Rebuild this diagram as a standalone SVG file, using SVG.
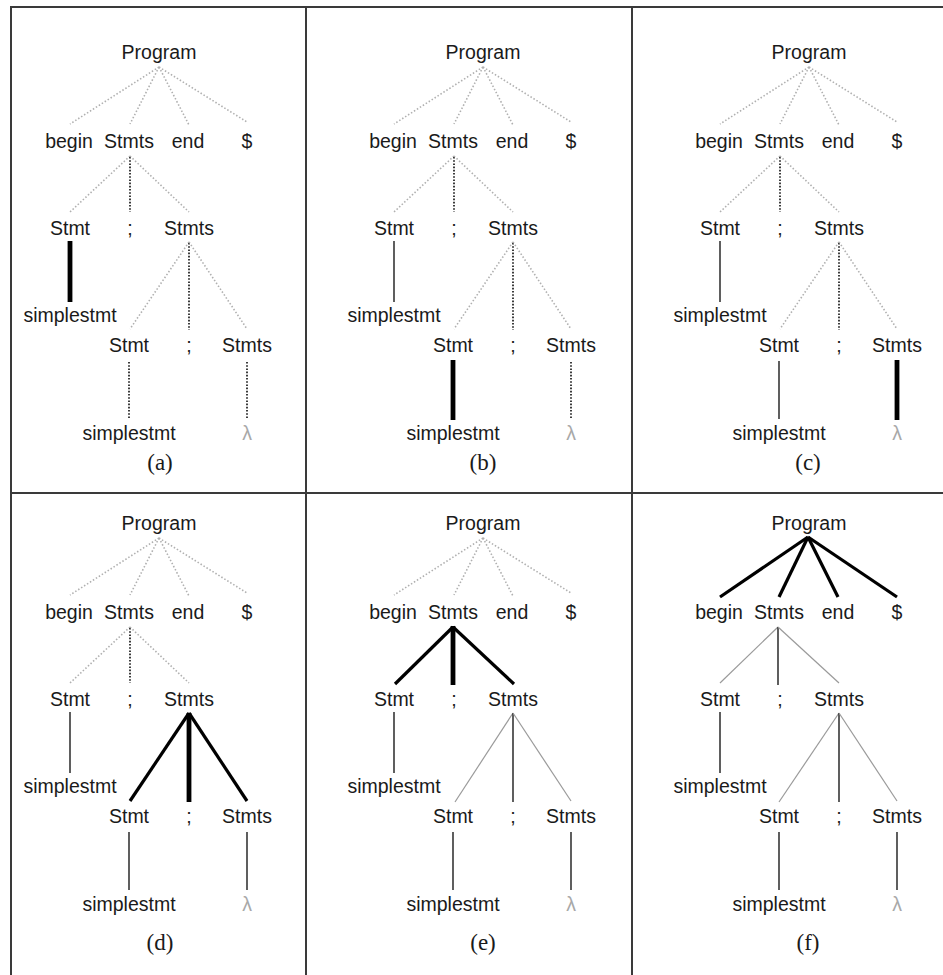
<svg xmlns="http://www.w3.org/2000/svg" width="943" height="975" viewBox="0 0 943 975">
<style>
.t{font-family:"Liberation Sans",Arial,sans-serif;font-size:19.5px;fill:#1a1a1a;text-anchor:middle}
.lam{fill:#a8a8a8}
.cap{font-family:"Liberation Serif","Times New Roman",serif;font-size:23px;fill:#1a1a1a;text-anchor:middle}
.dg{stroke:#b0b0b0;stroke-width:1.6;stroke-dasharray:1.5 2;fill:none}
.dk{stroke:#1a1a1a;stroke-width:1.7;stroke-dasharray:1.6 1.6;fill:none}
.th{stroke:#1a1a1a;stroke-width:1.4;fill:none}
.tg{stroke:#9a9a9a;stroke-width:1.2;fill:none}
.bk{stroke:#000;stroke-width:3.2;fill:none}
.bv{stroke:#000;stroke-width:4.8;fill:none}
.fr{stroke:#3a3a3a;stroke-width:2;fill:none}
</style>
<g id="frame">
<line class="fr" x1="11" y1="7" x2="943" y2="7"/>
<line class="fr" x1="11" y1="6" x2="11" y2="975"/>
<line class="fr" x1="306" y1="6" x2="306" y2="975"/>
<line class="fr" x1="632" y1="6" x2="632" y2="975"/>
<line class="fr" x1="11" y1="493" x2="943" y2="493"/>
</g>

<!-- Panel a -->
<g id="panel-a">
<g id="a-connectors">
<line class="dg" x1="159" y1="67" x2="70" y2="124"/>
<line class="dg" x1="159" y1="67" x2="130" y2="124"/>
<line class="dg" x1="159" y1="67" x2="189" y2="125"/>
<line class="dg" x1="159" y1="67" x2="247" y2="122"/>
<line class="dg" x1="130" y1="156" x2="70" y2="212"/>
<line class="dk" x1="130" y1="157" x2="130" y2="212"/>
<line class="dg" x1="130" y1="156" x2="189" y2="212"/>
<line class="bv" x1="70" y1="241" x2="70" y2="302"/>
<line class="dg" x1="189" y1="242" x2="130" y2="329"/>
<line class="dk" x1="189" y1="243" x2="189" y2="330"/>
<line class="dg" x1="189" y1="242" x2="247" y2="329"/>
<line class="dk" x1="129" y1="362" x2="129" y2="418"/>
<line class="dk" x1="247" y1="362" x2="247" y2="418"/>
</g>
<g id="a-program"><text class="t" x="159" y="59">Program</text></g>
<g id="a-begin"><text class="t" x="69" y="148">begin</text></g>
<g id="a-stmts1"><text class="t" x="129" y="148">Stmts</text></g>
<g id="a-end"><text class="t" x="188" y="148">end</text></g>
<g id="a-dollar"><text class="t" x="247" y="148">$</text></g>
<g id="a-stmt1"><text class="t" x="70" y="235">Stmt</text></g>
<g id="a-semi1"><text class="t" x="130" y="235">;</text></g>
<g id="a-stmts2"><text class="t" x="189" y="235">Stmts</text></g>
<g id="a-simple1"><text class="t" x="70" y="322">simplestmt</text></g>
<g id="a-stmt2"><text class="t" x="129" y="352">Stmt</text></g>
<g id="a-semi2"><text class="t" x="189" y="352">;</text></g>
<g id="a-stmts3"><text class="t" x="247" y="352">Stmts</text></g>
<g id="a-simple2"><text class="t" x="129" y="440">simplestmt</text></g>
<g id="a-lambda"><text class="t lam" x="247" y="440">λ</text></g>
<text class="cap" x="160" y="470">(a)</text>
</g>

<!-- Panel b -->
<g id="panel-b" transform="translate(324,0)">
<g id="b-connectors">
<line class="dg" x1="159" y1="67" x2="70" y2="124"/>
<line class="dg" x1="159" y1="67" x2="130" y2="124"/>
<line class="dg" x1="159" y1="67" x2="189" y2="125"/>
<line class="dg" x1="159" y1="67" x2="247" y2="122"/>
<line class="dg" x1="130" y1="156" x2="70" y2="212"/>
<line class="dk" x1="130" y1="157" x2="130" y2="212"/>
<line class="dg" x1="130" y1="156" x2="189" y2="212"/>
<line class="th" x1="70" y1="241" x2="70" y2="302"/>
<line class="dg" x1="189" y1="242" x2="130" y2="329"/>
<line class="dk" x1="189" y1="243" x2="189" y2="330"/>
<line class="dg" x1="189" y1="242" x2="247" y2="329"/>
<line class="bv" x1="129" y1="360" x2="129" y2="420"/>
<line class="dk" x1="247" y1="362" x2="247" y2="418"/>
</g>
<g id="b-program"><text class="t" x="159" y="59">Program</text></g>
<g id="b-begin"><text class="t" x="69" y="148">begin</text></g>
<g id="b-stmts1"><text class="t" x="129" y="148">Stmts</text></g>
<g id="b-end"><text class="t" x="188" y="148">end</text></g>
<g id="b-dollar"><text class="t" x="247" y="148">$</text></g>
<g id="b-stmt1"><text class="t" x="70" y="235">Stmt</text></g>
<g id="b-semi1"><text class="t" x="130" y="235">;</text></g>
<g id="b-stmts2"><text class="t" x="189" y="235">Stmts</text></g>
<g id="b-simple1"><text class="t" x="70" y="322">simplestmt</text></g>
<g id="b-stmt2"><text class="t" x="129" y="352">Stmt</text></g>
<g id="b-semi2"><text class="t" x="189" y="352">;</text></g>
<g id="b-stmts3"><text class="t" x="247" y="352">Stmts</text></g>
<g id="b-simple2"><text class="t" x="129" y="440">simplestmt</text></g>
<g id="b-lambda"><text class="t lam" x="247" y="440">λ</text></g>
<text class="cap" x="159" y="470">(b)</text>
</g>

<!-- Panel c -->
<g id="panel-c" transform="translate(650,0)">
<g id="c-connectors">
<line class="dg" x1="159" y1="67" x2="70" y2="124"/>
<line class="dg" x1="159" y1="67" x2="130" y2="124"/>
<line class="dg" x1="159" y1="67" x2="189" y2="125"/>
<line class="dg" x1="159" y1="67" x2="247" y2="122"/>
<line class="dg" x1="130" y1="156" x2="70" y2="212"/>
<line class="dk" x1="130" y1="157" x2="130" y2="212"/>
<line class="dg" x1="130" y1="156" x2="189" y2="212"/>
<line class="th" x1="70" y1="241" x2="70" y2="302"/>
<line class="dg" x1="189" y1="242" x2="130" y2="329"/>
<line class="dk" x1="189" y1="243" x2="189" y2="330"/>
<line class="dg" x1="189" y1="242" x2="247" y2="329"/>
<line class="th" x1="129" y1="361" x2="129" y2="419"/>
<line class="bv" x1="247" y1="360" x2="247" y2="420"/>
</g>
<g id="c-program"><text class="t" x="159" y="59">Program</text></g>
<g id="c-begin"><text class="t" x="69" y="148">begin</text></g>
<g id="c-stmts1"><text class="t" x="129" y="148">Stmts</text></g>
<g id="c-end"><text class="t" x="188" y="148">end</text></g>
<g id="c-dollar"><text class="t" x="247" y="148">$</text></g>
<g id="c-stmt1"><text class="t" x="70" y="235">Stmt</text></g>
<g id="c-semi1"><text class="t" x="130" y="235">;</text></g>
<g id="c-stmts2"><text class="t" x="189" y="235">Stmts</text></g>
<g id="c-simple1"><text class="t" x="70" y="322">simplestmt</text></g>
<g id="c-stmt2"><text class="t" x="129" y="352">Stmt</text></g>
<g id="c-semi2"><text class="t" x="189" y="352">;</text></g>
<g id="c-stmts3"><text class="t" x="247" y="352">Stmts</text></g>
<g id="c-simple2"><text class="t" x="129" y="440">simplestmt</text></g>
<g id="c-lambda"><text class="t lam" x="247" y="440">λ</text></g>
<text class="cap" x="158" y="470">(c)</text>
</g>

<!-- Panel d -->
<g id="panel-d" transform="translate(0,471)">
<g id="d-connectors">
<line class="dg" x1="159" y1="67" x2="70" y2="124"/>
<line class="dg" x1="159" y1="67" x2="130" y2="124"/>
<line class="dg" x1="159" y1="67" x2="189" y2="125"/>
<line class="dg" x1="159" y1="67" x2="247" y2="122"/>
<line class="dg" x1="130" y1="156" x2="70" y2="212"/>
<line class="dk" x1="130" y1="157" x2="130" y2="212"/>
<line class="dg" x1="130" y1="156" x2="189" y2="212"/>
<line class="th" x1="70" y1="241" x2="70" y2="302"/>
<line class="bk" x1="189" y1="242" x2="130" y2="330"/>
<line class="bv" x1="189" y1="242" x2="189" y2="331"/>
<line class="bk" x1="189" y1="242" x2="247" y2="330"/>
<line class="th" x1="129" y1="361" x2="129" y2="419"/>
<line class="th" x1="247" y1="361" x2="247" y2="419"/>
</g>
<g id="d-program"><text class="t" x="159" y="59">Program</text></g>
<g id="d-begin"><text class="t" x="69" y="148">begin</text></g>
<g id="d-stmts1"><text class="t" x="129" y="148">Stmts</text></g>
<g id="d-end"><text class="t" x="188" y="148">end</text></g>
<g id="d-dollar"><text class="t" x="247" y="148">$</text></g>
<g id="d-stmt1"><text class="t" x="70" y="235">Stmt</text></g>
<g id="d-semi1"><text class="t" x="130" y="235">;</text></g>
<g id="d-stmts2"><text class="t" x="189" y="235">Stmts</text></g>
<g id="d-simple1"><text class="t" x="70" y="322">simplestmt</text></g>
<g id="d-stmt2"><text class="t" x="129" y="352">Stmt</text></g>
<g id="d-semi2"><text class="t" x="189" y="352">;</text></g>
<g id="d-stmts3"><text class="t" x="247" y="352">Stmts</text></g>
<g id="d-simple2"><text class="t" x="129" y="440">simplestmt</text></g>
<g id="d-lambda"><text class="t lam" x="247" y="440">λ</text></g>
<text class="cap" x="160" y="479">(d)</text>
</g>

<!-- Panel e -->
<g id="panel-e" transform="translate(324,471)">
<g id="e-connectors">
<line class="dg" x1="159" y1="67" x2="70" y2="124"/>
<line class="dg" x1="159" y1="67" x2="130" y2="124"/>
<line class="dg" x1="159" y1="67" x2="189" y2="125"/>
<line class="dg" x1="159" y1="67" x2="247" y2="122"/>
<line class="bk" x1="129" y1="156" x2="71" y2="213"/>
<line class="bv" x1="129" y1="155" x2="129" y2="214"/>
<line class="bk" x1="129" y1="156" x2="190" y2="213"/>
<line class="th" x1="70" y1="241" x2="70" y2="302"/>
<line class="tg" x1="189" y1="242" x2="131" y2="331"/>
<line class="th" x1="189" y1="242" x2="189" y2="331"/>
<line class="tg" x1="189" y1="242" x2="247" y2="330"/>
<line class="th" x1="129" y1="361" x2="129" y2="419"/>
<line class="th" x1="247" y1="361" x2="247" y2="419"/>
</g>
<g id="e-program"><text class="t" x="159" y="59">Program</text></g>
<g id="e-begin"><text class="t" x="69" y="148">begin</text></g>
<g id="e-stmts1"><text class="t" x="129" y="148">Stmts</text></g>
<g id="e-end"><text class="t" x="188" y="148">end</text></g>
<g id="e-dollar"><text class="t" x="247" y="148">$</text></g>
<g id="e-stmt1"><text class="t" x="70" y="235">Stmt</text></g>
<g id="e-semi1"><text class="t" x="130" y="235">;</text></g>
<g id="e-stmts2"><text class="t" x="189" y="235">Stmts</text></g>
<g id="e-simple1"><text class="t" x="70" y="322">simplestmt</text></g>
<g id="e-stmt2"><text class="t" x="129" y="352">Stmt</text></g>
<g id="e-semi2"><text class="t" x="189" y="352">;</text></g>
<g id="e-stmts3"><text class="t" x="247" y="352">Stmts</text></g>
<g id="e-simple2"><text class="t" x="129" y="440">simplestmt</text></g>
<g id="e-lambda"><text class="t lam" x="247" y="440">λ</text></g>
<text class="cap" x="159" y="479">(e)</text>
</g>

<!-- Panel f -->
<g id="panel-f" transform="translate(650,471)">
<g id="f-connectors">
<line class="bk" x1="158" y1="66" x2="70" y2="126"/>
<line class="bk" x1="158" y1="66" x2="129" y2="126"/>
<line class="bk" x1="158" y1="66" x2="188" y2="126"/>
<line class="bk" x1="158" y1="66" x2="247" y2="126"/>
<line class="tg" x1="128" y1="156" x2="70" y2="212"/>
<line class="th" x1="128" y1="156" x2="128" y2="214"/>
<line class="tg" x1="128" y1="156" x2="189" y2="212"/>
<line class="th" x1="70" y1="241" x2="70" y2="302"/>
<line class="tg" x1="189" y1="242" x2="129" y2="331"/>
<line class="th" x1="189" y1="242" x2="189" y2="331"/>
<line class="tg" x1="189" y1="242" x2="247" y2="330"/>
<line class="th" x1="129" y1="361" x2="129" y2="419"/>
<line class="th" x1="247" y1="361" x2="247" y2="419"/>
</g>
<g id="f-program"><text class="t" x="159" y="59">Program</text></g>
<g id="f-begin"><text class="t" x="69" y="148">begin</text></g>
<g id="f-stmts1"><text class="t" x="129" y="148">Stmts</text></g>
<g id="f-end"><text class="t" x="188" y="148">end</text></g>
<g id="f-dollar"><text class="t" x="247" y="148">$</text></g>
<g id="f-stmt1"><text class="t" x="70" y="235">Stmt</text></g>
<g id="f-semi1"><text class="t" x="130" y="235">;</text></g>
<g id="f-stmts2"><text class="t" x="189" y="235">Stmts</text></g>
<g id="f-simple1"><text class="t" x="70" y="322">simplestmt</text></g>
<g id="f-stmt2"><text class="t" x="129" y="352">Stmt</text></g>
<g id="f-semi2"><text class="t" x="189" y="352">;</text></g>
<g id="f-stmts3"><text class="t" x="247" y="352">Stmts</text></g>
<g id="f-simple2"><text class="t" x="129" y="440">simplestmt</text></g>
<g id="f-lambda"><text class="t lam" x="247" y="440">λ</text></g>
<text class="cap" x="158" y="479">(f)</text>
</g>
</svg>
